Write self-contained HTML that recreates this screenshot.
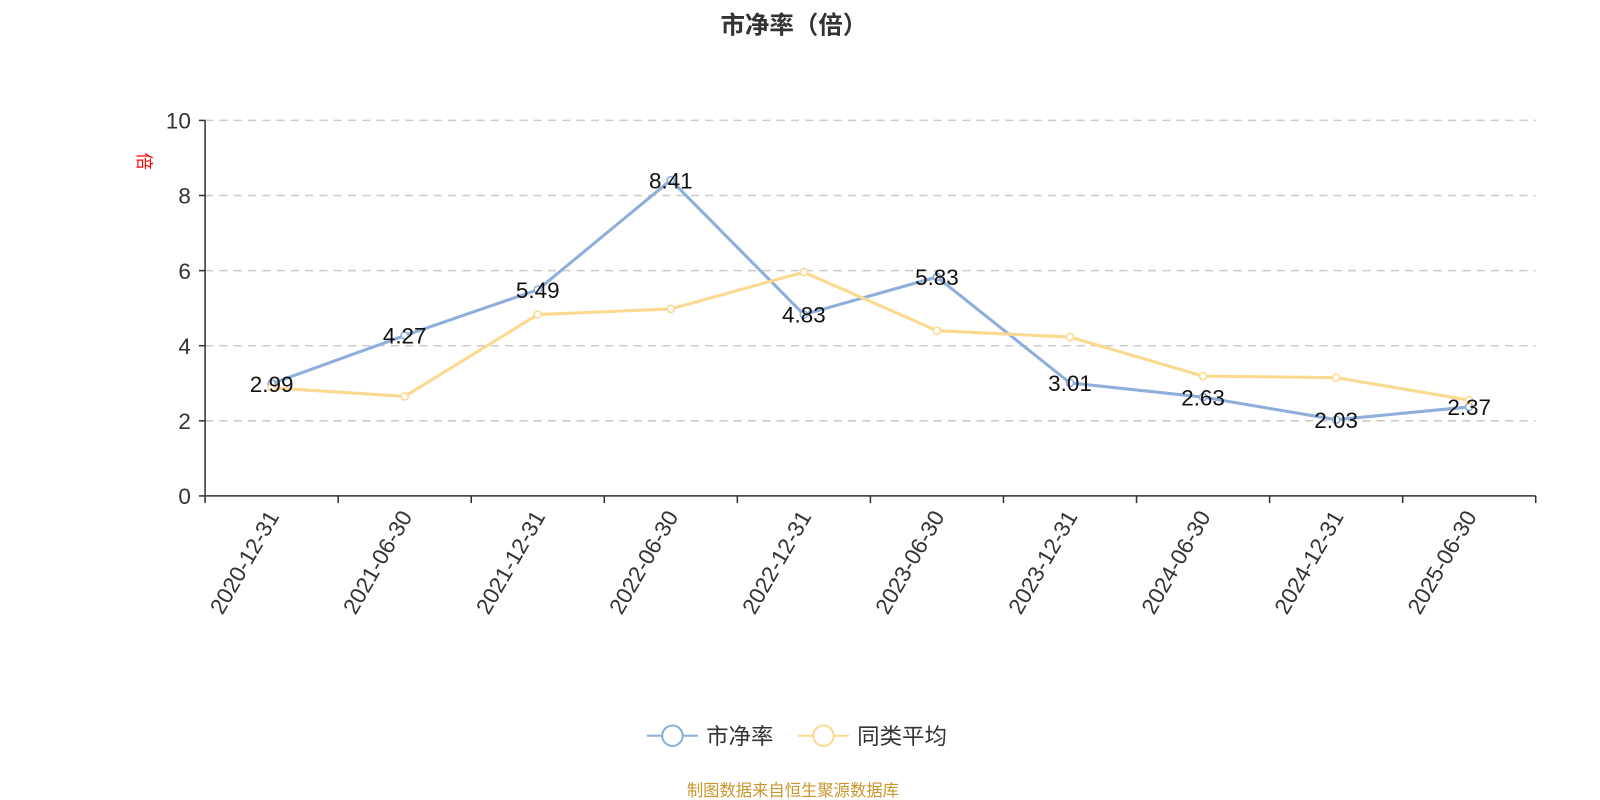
<!DOCTYPE html>
<html><head><meta charset="utf-8"><style>
body{margin:0;background:#fff;width:1600px;height:800px;overflow:hidden;font-family:"Liberation Sans","Noto Sans CJK SC",sans-serif}
svg{display:block}
</style></head><body>
<svg id="c" width="1600" height="800" viewBox="0 0 1568 784" xmlns="http://www.w3.org/2000/svg" font-family="Liberation Sans, Noto Sans CJK SC, sans-serif">
<text x="778" y="33" text-anchor="middle" font-size="24" font-weight="bold" fill="#333">市净率（倍）</text>
<text transform="translate(135,158) rotate(90)" text-anchor="middle" font-size="17" fill="#f00">倍</text>
<g id="grid"></g><g id="axes"></g><g id="series"></g>
<g>
<g>
<line x1="634" y1="721" x2="684" y2="721" stroke="#8eaedb" stroke-width="2"/><circle cx="659" cy="721" r="10" fill="#fff" stroke="#8eaedb" stroke-width="2"/>
<text x="692" y="729" font-size="22" fill="#333">市净率</text></g>
<g>
<line x1="782" y1="721" x2="832" y2="721" stroke="#fcd98e" stroke-width="2"/><circle cx="807" cy="721" r="10" fill="#fff" stroke="#fcd98e" stroke-width="2"/>
<text x="840" y="729" font-size="22" fill="#333">同类平均</text></g>
</g>
<text x="777" y="780" text-anchor="middle" font-size="16" fill="#c8962a">制图数据来自恒生聚源数据库</text>
</svg>
<script>
const categories=["2020-12-31","2021-06-30","2021-12-31","2022-06-30","2022-12-31","2023-06-30","2023-12-31","2024-06-30","2024-12-31","2025-06-30"];
const pbValues=[2.99,4.27,5.49,8.41,4.83,5.83,3.01,2.63,2.03,2.37];
const peerValues=[2.88,2.65,4.83,4.98,5.96,4.40,4.23,3.19,3.15,2.55];
const yTicks=[0,2,4,6,8,10];
const NS="http://www.w3.org/2000/svg";
const x0=201,x1=1505,y0=486,y1=118,yMax=10;
const bw=(x1-x0)/categories.length;
const xs=i=>x0+bw*(i+0.5);
const ys=v=>y0-(v/yMax)*(y0-y1);
function mk(tag,attrs,parent,text){const e=document.createElementNS(NS,tag);for(const k in attrs)e.setAttribute(k,attrs[k]);if(text!==undefined)e.textContent=text;parent.appendChild(e);return e;}
const grid=document.getElementById('grid'),axes=document.getElementById('axes'),ser=document.getElementById('series');
yTicks.forEach(t=>{
 const y=ys(t);
 if(t>0){const g=mk('line',{x1:x0,x2:x1,y1:y,y2:y,stroke:'#ccc','stroke-width':1.5,'stroke-dasharray':'8,6'},grid);
 
 }
 const tk=mk('line',{x1:x0-6,x2:x0,y1:y,y2:y,stroke:'#333','stroke-width':1.5},axes);
 
 
 const lb=mk('text',{x:x0-14,y:y+8,'text-anchor':'end','font-size':22,fill:'#333'},axes,String(t));
 
 
});
const ya=mk('line',{x1:x0,x2:x0,y1:y1,y2:y0,stroke:'#333','stroke-width':1.5},axes);


const xa=mk('line',{x1:x0,x2:x1,y1:y0,y2:y0,stroke:'#333','stroke-width':1.5},axes);


for(let i=0;i<=categories.length;i++){const x=x0+bw*i;
 const t=mk('line',{x1:x,x2:x,y1:y0,y2:y0+7,stroke:'#333','stroke-width':1.5},axes);
 
 }
categories.forEach((c,i)=>{
 const x=xs(i)+8,y=y0+20;
 const l=mk('text',{transform:`translate(${x},${y}) rotate(-60)`,'text-anchor':'end','font-size':22,fill:'#333'},axes,c);
 
 
});
function drawSeries(vals,color,name){
 const pts=vals.map((v,i)=>xs(i)+','+ys(v)).join(' ');
 const pl=mk('polyline',{points:pts,fill:'none',stroke:color,'stroke-width':3,'stroke-linejoin':'round'},ser);
 
 
 vals.forEach((v,i)=>{
  const c=mk('circle',{cx:xs(i),cy:ys(v),r:3.5,fill:'#fff',stroke:color,'stroke-width':1.5},ser);
  
  
 });
}
drawSeries(pbValues,'#8eaedb','pb');
drawSeries(peerValues,'#fcd98e','peer-average');
pbValues.forEach((v,i)=>{
 const t=mk('text',{x:xs(i),y:ys(v)+8,'text-anchor':'middle','font-size':22,fill:'#111'},ser,v.toFixed(2));
 
 
});
</script>
</body></html>
